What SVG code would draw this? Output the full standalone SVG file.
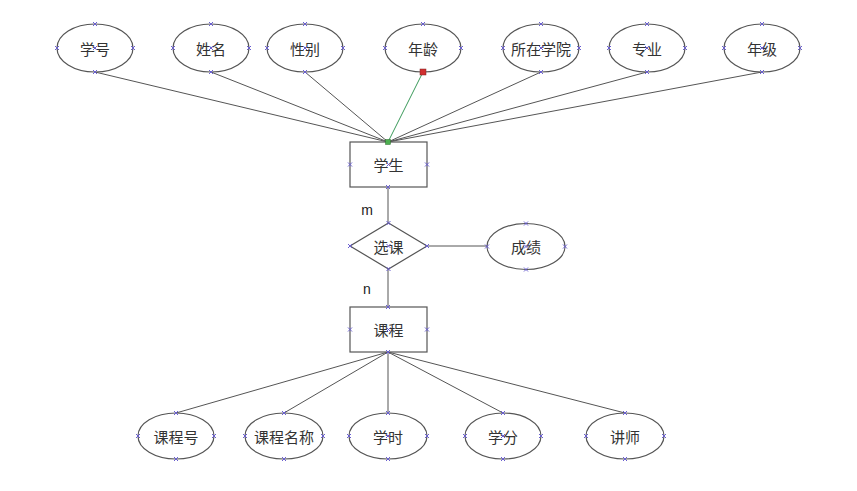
<svg xmlns="http://www.w3.org/2000/svg" xmlns:xlink="http://www.w3.org/1999/xlink" width="857" height="491" viewBox="0 0 857 491">
<style>
.ell{fill:#fff;stroke:#555;stroke-width:1.2}
.box{fill:#fff;stroke:#555;stroke-width:1.2}
.ln{stroke:#555;stroke-width:1;fill:none}
.t{font-family:"Noto Sans CJK SC","Liberation Sans",sans-serif;font-size:15px;fill:#333;text-anchor:middle;dominant-baseline:central}
.c{font-family:"Liberation Sans",Arial,sans-serif;font-size:14px;fill:#222;text-anchor:middle;dominant-baseline:central}
.mk{stroke:#6a5fd0;stroke-width:1;fill:none}
</style>
<defs>
<path id="x" class="mk" d="M-2,-2 L2,2 M-2,2 L2,-2"/>
</defs>
<rect width="857" height="491" fill="#fff"/>
<g id="connectors">
<line class="ln" x1="95" y1="72" x2="388" y2="142"/>
<line class="ln" x1="211" y1="72" x2="388" y2="142"/>
<line class="ln" x1="305" y1="72" x2="388" y2="142"/>
<line x1="423" y1="72" x2="388" y2="142" stroke="#3a9a5a" stroke-width="1"/>
<line class="ln" x1="541" y1="72" x2="388" y2="142"/>
<line class="ln" x1="647" y1="72" x2="388" y2="142"/>
<line class="ln" x1="762" y1="72" x2="388" y2="142"/>
<line class="ln" x1="388" y1="187" x2="388" y2="223"/>
<line class="ln" x1="388" y1="269" x2="388" y2="307"/>
<line class="ln" x1="427" y1="246" x2="487" y2="246"/>
<line class="ln" x1="388" y1="352" x2="176" y2="413"/>
<line class="ln" x1="388" y1="352" x2="284" y2="413"/>
<line class="ln" x1="388" y1="352" x2="388" y2="413"/>
<line class="ln" x1="388" y1="352" x2="503" y2="413"/>
<line class="ln" x1="388" y1="352" x2="625" y2="413"/>
<text class="c" x="367" y="210">m</text>
<text class="c" x="367" y="289">n</text>
</g>
<g id="xuehao"><ellipse class="ell" cx="95" cy="48" rx="38" ry="24"/><text class="t" x="95" y="48">学号</text>
<use href="#x" x="95" y="24"/><use href="#x" x="95" y="72"/><use href="#x" x="57" y="48"/><use href="#x" x="133" y="48"/><use href="#x" x="95" y="48"/></g>
<g id="xingming"><ellipse class="ell" cx="211" cy="48" rx="38" ry="24"/><text class="t" x="211" y="48">姓名</text>
<use href="#x" x="211" y="24"/><use href="#x" x="211" y="72"/><use href="#x" x="173" y="48"/><use href="#x" x="249" y="48"/><use href="#x" x="211" y="48"/></g>
<g id="xingbie"><ellipse class="ell" cx="305" cy="48" rx="38" ry="24"/><text class="t" x="305" y="48">性别</text>
<use href="#x" x="305" y="24"/><use href="#x" x="305" y="72"/><use href="#x" x="267" y="48"/><use href="#x" x="343" y="48"/><use href="#x" x="305" y="48"/></g>
<g id="nianling"><ellipse class="ell" cx="423" cy="48" rx="38" ry="24"/><text class="t" x="423" y="48">年龄</text>
<use href="#x" x="423" y="24"/><use href="#x" x="385" y="48"/><use href="#x" x="461" y="48"/>
<rect x="420" y="69" width="6" height="6" fill="#d03030" stroke="#802020" stroke-width="0.5"/></g>
<g id="suozaixueyuan"><ellipse class="ell" cx="541" cy="48" rx="38" ry="24"/><text class="t" x="541" y="48">所在学院</text>
<use href="#x" x="541" y="24"/><use href="#x" x="541" y="72"/><use href="#x" x="503" y="48"/><use href="#x" x="579" y="48"/><use href="#x" x="541" y="48"/></g>
<g id="zhuanye"><ellipse class="ell" cx="647" cy="48" rx="38" ry="24"/><text class="t" x="647" y="48">专业</text>
<use href="#x" x="647" y="24"/><use href="#x" x="647" y="72"/><use href="#x" x="609" y="48"/><use href="#x" x="685" y="48"/><use href="#x" x="647" y="48"/></g>
<g id="nianji"><ellipse class="ell" cx="762" cy="48" rx="38" ry="24"/><text class="t" x="762" y="48">年级</text>
<use href="#x" x="762" y="24"/><use href="#x" x="762" y="72"/><use href="#x" x="724" y="48"/><use href="#x" x="800" y="48"/><use href="#x" x="762" y="48"/></g>
<g id="xuesheng"><rect class="box" x="350" y="142" width="77" height="45"/><text class="t" x="388.5" y="164.5">学生</text>
<use href="#x" x="350" y="164.5"/><use href="#x" x="427" y="164.5"/><use href="#x" x="388" y="187"/><use href="#x" x="388.5" y="164.5"/>
<rect x="385.5" y="139.5" width="5" height="5" fill="#4caf50" stroke="#2a6a2a" stroke-width="0.5"/></g>
<g id="xuanke"><polygon class="box" points="388.5,223 427,246 388.5,269 350,246"/><text class="t" x="388.5" y="246">选课</text>
<use href="#x" x="388.5" y="223"/><use href="#x" x="388.5" y="269"/><use href="#x" x="350" y="246"/><use href="#x" x="427" y="246"/><use href="#x" x="388.5" y="246"/></g>
<g id="chengji"><ellipse class="ell" cx="526" cy="246.5" rx="39" ry="23"/><text class="t" x="526" y="246.5">成绩</text>
<use href="#x" x="526" y="223.5"/><use href="#x" x="526" y="269.5"/><use href="#x" x="487" y="246.5"/><use href="#x" x="565" y="246.5"/><use href="#x" x="526" y="246.5"/></g>
<g id="kecheng"><rect class="box" x="350" y="307" width="77" height="45"/><text class="t" x="388.5" y="329.5">课程</text>
<use href="#x" x="350" y="329.5"/><use href="#x" x="427" y="329.5"/><use href="#x" x="388" y="307"/><use href="#x" x="388" y="352"/><use href="#x" x="388.5" y="329.5"/></g>
<g id="kechenghao"><ellipse class="ell" cx="176" cy="436" rx="38" ry="23"/><text class="t" x="176" y="436">课程号</text>
<use href="#x" x="176" y="413"/><use href="#x" x="176" y="459"/><use href="#x" x="138" y="436"/><use href="#x" x="214" y="436"/></g>
<g id="kechengmingcheng"><ellipse class="ell" cx="284" cy="436" rx="39" ry="23"/><text class="t" x="284" y="436">课程名称</text>
<use href="#x" x="284" y="413"/><use href="#x" x="284" y="459"/><use href="#x" x="245" y="436"/><use href="#x" x="323" y="436"/></g>
<g id="xueshi"><ellipse class="ell" cx="388" cy="436" rx="39" ry="23"/><text class="t" x="388" y="436">学时</text>
<use href="#x" x="388" y="413"/><use href="#x" x="388" y="459"/><use href="#x" x="349" y="436"/><use href="#x" x="427" y="436"/><use href="#x" x="388" y="436"/></g>
<g id="xuefen"><ellipse class="ell" cx="503" cy="436" rx="38" ry="23"/><text class="t" x="503" y="436">学分</text>
<use href="#x" x="503" y="413"/><use href="#x" x="503" y="459"/><use href="#x" x="465" y="436"/><use href="#x" x="541" y="436"/><use href="#x" x="503" y="436"/></g>
<g id="jiangshi"><ellipse class="ell" cx="625" cy="436" rx="39" ry="23"/><text class="t" x="625" y="436">讲师</text>
<use href="#x" x="625" y="413"/><use href="#x" x="625" y="459"/><use href="#x" x="586" y="436"/><use href="#x" x="664" y="436"/></g>
</svg>
